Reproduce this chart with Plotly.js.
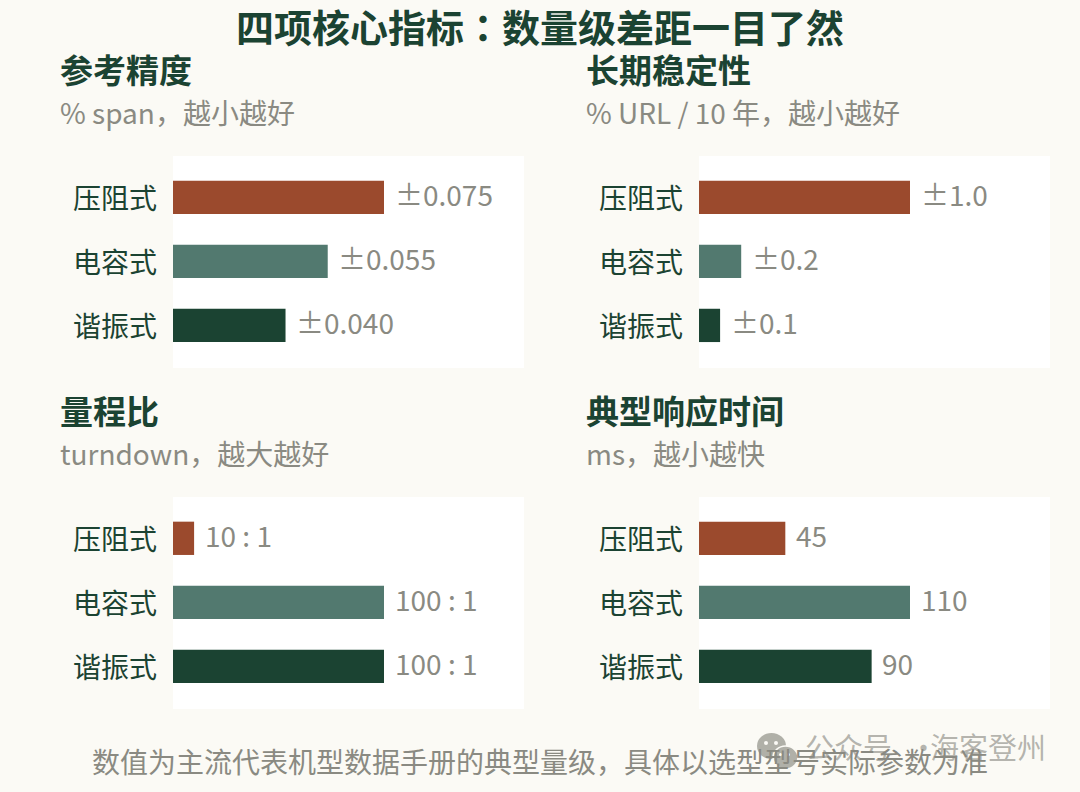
<!DOCTYPE html>
<html>
<head>
<meta charset="utf-8">
<script src="https://cdn.plot.ly/plotly-3.0.1.min.js"></script>
<style>
    html, body { margin: 0; padding: 0; background: #fbfaf5; }
</style>
</head>
<body>
<div id="chart" style="width:1080px;height:792px;"></div>
<script>
const categories = ['压阻式', '电容式', '谐振式'];
const barColors = ['#9b4a2d', '#52796f', '#1b4332'];

const panelTitles = ['参考精度', '长期稳定性', '量程比', '典型响应时间'];
const panelSubtitles = ['% span，越小越好', '% URL / 10 年，越小越好', 'turndown，越大越好', 'ms，越小越快'];

const accuracyValues = [0.075, 0.055, 0.040];
const stabilityValues = [1.0, 0.2, 0.1];
const turndownValues = [10, 100, 100];
const responseValues = [45, 110, 90];

const accuracyLabels = ['±0.075', '±0.055', '±0.040'];
const stabilityLabels = ['±1.0', '±0.2', '±0.1'];
const turndownLabels = ['10 : 1', '100 : 1', '100 : 1'];
const responseLabels = ['45', '110', '90'];

const chartTitle = '四项核心指标<span style="font-family:\'Noto Sans CJK TC\'">：</span>数量级差距一目了然';
const footnote = '数值为主流代表机型数据手册的典型量级，具体以选型型号实际参数为准';

const W = 1080, H = 792;
const FONT = '"Noto Sans CJK SC", "Noto Sans", sans-serif';
const GREEN = '#1b4332';
const GRAY = '#8a8a82';
const MARK = 'rgba(120,120,112,0.55)';

const px = x => x / W;
const py = y => 1 - y / H;

// plot boxes in pixels, one per panel
const panels = [
    { values: accuracyValues, labels: accuracyLabels, left: 173, top: 156, textX: 59 },
    { values: stabilityValues, labels: stabilityLabels, left: 699, top: 156, textX: 585 },
    { values: turndownValues, labels: turndownLabels, left: 173, top: 497, textX: 59 },
    { values: responseValues, labels: responseLabels, left: 699, top: 497, textX: 585 }
];

// watermark icon
const circle = (x0, x1, y0, y1, fill, line) => ({
    type: 'circle',
    xref: 'paper',
    yref: 'paper',
    x0: px(x0),
    x1: px(x1),
    y0: py(y0),
    y1: py(y1),
    fillcolor: fill,
    line: line || { width: 0 }
});

const data = [];
const annotations = [];
const layout = {
    width: W,
    height: H,
    margin: { l: 0, r: 0, t: 0, b: 0 },
    paper_bgcolor: '#fbfaf5',
    plot_bgcolor: '#ffffff',
    showlegend: false,
    bargap: 0.48,
    font: { family: FONT },
    annotations: annotations,
    shapes: [
        circle(757, 786, 733, 759, '#b0b0a8'),
        circle(773, 798, 746, 769, '#b0b0a8', { width: 1.5, color: '#fbfaf5' }),
        circle(764, 768, 741, 745, '#fbfaf5'),
        circle(774, 778, 741, 745, '#fbfaf5'),
        circle(779, 782, 753, 756, '#fbfaf5'),
        circle(787, 790, 753, 756, '#fbfaf5')
    ]
};

function addText(text, x, y, size, color, opts) {
    annotations.push(Object.assign({
        text: text,
        xref: 'paper',
        yref: 'paper',
        x: px(x),
        y: py(y),
        xanchor: 'left',
        yanchor: 'middle',
        showarrow: false,
        borderpad: 0,
        font: { family: FONT, size: size, color: color }
    }, opts || {}));
}

panels.forEach((panel, i) => {
    const n = i === 0 ? '' : i + 1;
    const maxValue = Math.max(...panel.values);

    data.push({
        type: 'bar',
        orientation: 'h',
        x: panel.values,
        y: categories,
        xaxis: 'x' + n,
        yaxis: 'y' + n,
        marker: { color: barColors, line: { width: 0 } },
        hoverinfo: 'none'
    });

    layout['xaxis' + n] = {
        domain: [px(panel.left), px(panel.left + 351)],
        range: [0, maxValue * 351 / 211],
        anchor: 'y' + n,
        visible: false,
        fixedrange: true
    };
    layout['yaxis' + n] = {
        domain: [py(panel.top + 212), py(panel.top)],
        range: [2.665, -0.645],
        anchor: 'x' + n,
        type: 'category',
        categoryorder: 'array',
        categoryarray: categories,
        showgrid: false,
        showline: false,
        zeroline: false,
        ticks: '',
        ticklabelstandoff: 15,
        ticklabelshift: -2,
        tickfont: { family: FONT, size: 28, color: GREEN },
        fixedrange: true
    };

    panel.values.forEach((v, j) => {
        annotations.push({
            text: panel.labels[j],
            x: v,
            y: categories[j],
            xref: 'x' + n,
            yref: 'y' + n,
            xanchor: 'left',
            yanchor: 'middle',
            xshift: 9.5,
            yshift: 3,
            showarrow: false,
            borderpad: 0,
            font: { family: FONT, size: 28, color: GRAY }
        });
    });

    addText('<b>' + panelTitles[i] + '</b>', panel.textX, panel.top - 87, 33, GREEN);
    addText(panelSubtitles[i], panel.textX, panel.top - 44, 28, GRAY);
});

addText('<b>' + chartTitle + '</b>', 540, 25, 38, GREEN, { xanchor: 'center' });
addText('公众号', 804, 746, 29, MARK);
addText('·', 908, 746, 29, MARK);
addText('海客登州', 929, 746, 29, MARK);
addText(footnote, 540, 761, 28, GRAY, { xanchor: 'center' });

Plotly.newPlot('chart', data, layout, { displayModeBar: false, staticPlot: true });
</script>
</body>
</html>
